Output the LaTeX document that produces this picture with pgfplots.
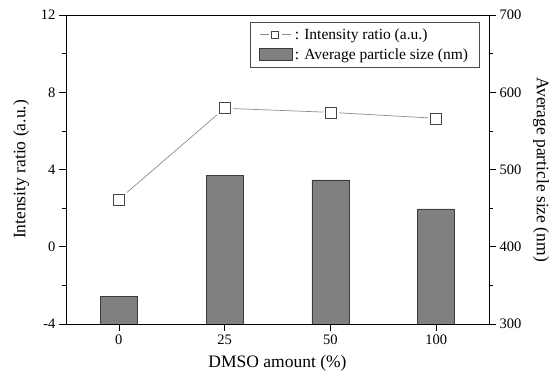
\documentclass[border=0pt]{standalone}
\usepackage{pgfplots}
\pgfplotsset{compat=1.18}
\usepackage{fontspec}
\setmainfont{Liberation Serif}
\definecolor{barfill}{RGB}{128,128,128}
\definecolor{baredge}{RGB}{60,60,60}
\definecolor{linegray}{RGB}{140,140,140}
\definecolor{markedge}{RGB}{70,70,70}
\pgfplotsset{
  barlegend/.style={legend image code/.code={\draw[##1] (0pt,-5.5pt) rectangle (33pt,6.5pt);}},
  linelegend/.style={legend image code/.code={%
     \draw[linegray, line width=0.6pt] (0pt,0pt) -- (9pt,0pt);
     \draw[linegray, line width=0.6pt] (22pt,0pt) -- (31pt,0pt);
     \draw[markedge, fill=white, line width=0.5pt] (12pt,-3.5pt) rectangle (19pt,3.5pt);}},
  common/.style={
    scale only axis, width=423pt, height=309pt,
    xmin=-0.5, xmax=3.5,
    tick align=outside,
    major tick length=7pt, minor tick length=3.5pt,
    every tick/.style={black, line width=0.6pt},
    /pgf/number format/assume math mode=true,
    tick label style={font=\fontsize{14.5}{17}\selectfont},
    label style={font=\fontsize{17.5}{20}\selectfont},
  }
}
\begin{document}
\begin{tikzpicture}
% right axis: bars (average particle size)
\begin{axis}[common,
  name=ax,
  axis x line=none,
  axis y line*=right,
  ymin=300, ymax=700,
  ytick={300,400,500,600,700},
  minor y tick num=1,
  ylabel={Average particle size (nm)},
  ylabel style={rotate=180},
  ylabel shift=5pt,
  y axis line style={line width=0.8pt},
]
\addplot[ybar, bar width=0.35, fill=barfill, draw=baredge, line width=0.6pt]
  coordinates {(0,336) (1,492) (2,486.5) (3,449)};
\end{axis}
% left axis: intensity ratio line
\begin{axis}[common,
  axis line style={line width=0.8pt},
  xtick pos=left, ytick pos=left,
  xtick={0,1,2,3}, xticklabels={0,25,50,100},
  ymin=-4, ymax=12,
  ytick={-4,0,4,8,12},
  minor y tick num=1,
  xlabel={DMSO amount (\%)},
  ylabel={Intensity ratio (a.u.)},
  xlabel shift=4pt,
  ylabel shift=5pt,
  legend style={at={(0.435,0.977)}, anchor=north west, draw=black!70,
    line width=0.5pt,
    font=\fontsize{15.5}{18}\selectfont, inner xsep=9pt, inner ysep=4pt,
    row sep=4pt, cells={anchor=west}},
  legend cell align=left,
]
\addplot[linegray, line width=0.7pt, mark=square, mark size=5.5pt,
  mark options={draw=markedge, fill=white, line width=0.6pt}, linelegend]
  coordinates {(0,2.45) (1,7.17) (2,6.96) (3,6.65)};
\addlegendentry{: Intensity ratio (a.u.)}
\addplot[only marks, mark=square*, mark size=7.5pt, mark options={draw=white, fill=white}, forget plot]
  coordinates {(0,2.45) (1,7.17) (2,6.96) (3,6.65)};
\addplot[only marks, mark=square, mark size=5.5pt, mark options={draw=markedge, fill=white, line width=0.6pt}, forget plot]
  coordinates {(0,2.45) (1,7.17) (2,6.96) (3,6.65)};
\addlegendimage{barlegend, fill=barfill, draw=baredge, line width=0.6pt}
\addlegendentry{: Average particle size (nm)}
\end{axis}
\pgfresetboundingbox
\path (ax.south west) ++(-66pt,-52pt) rectangle ++(560pt,376pt);
\end{tikzpicture}
\end{document}
